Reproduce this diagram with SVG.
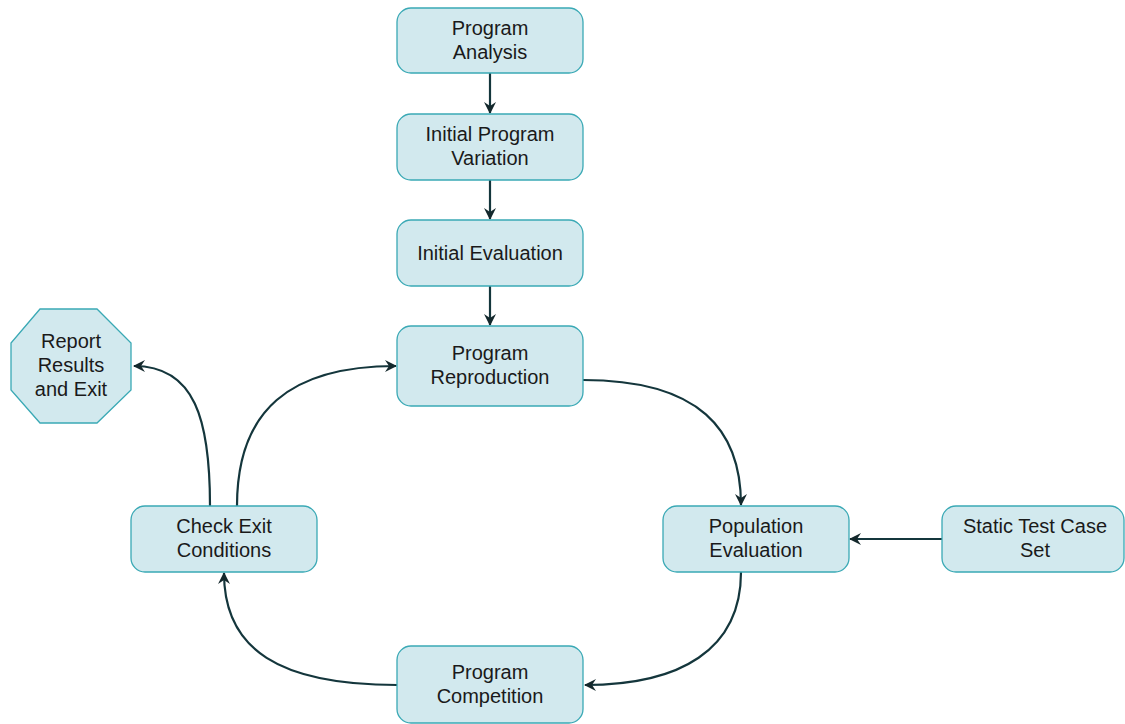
<svg xmlns="http://www.w3.org/2000/svg" width="1125" height="724" viewBox="0 0 1125 724">
<defs>
<marker id="arr" viewBox="0 0 12 12" refX="11" refY="6" markerWidth="12" markerHeight="12" markerUnits="userSpaceOnUse" orient="auto">
<path d="M0,0 L12,6 L0,12 L4,6 z" fill="#14282c"/>
</marker>
<style>
.n{fill:#d2e9ee;stroke:#3aa9b5;stroke-width:1.3}
.t{font-family:"Liberation Sans",Arial,sans-serif;font-size:20px;fill:#1a1a1a;text-anchor:middle}
.c{fill:none;stroke:#14363c;stroke-width:2.2;marker-end:url(#arr)}
</style>
</defs>
<rect width="1125" height="724" fill="#ffffff"/>
<g id="connectors">
<path class="c" d="M490,73 L490,113"/>
<path class="c" d="M490,180 L490,219"/>
<path class="c" d="M490,286 L490,325"/>
<path class="c" d="M583,380 C700,380 741,430 741,505"/>
<path class="c" d="M741,572 C741,650 680,685 585,685"/>
<path class="c" d="M397,685 C280,685 224,650 224,573"/>
<path class="c" d="M210,506 C210,420 195,366 134,366"/>
<path class="c" d="M237,506 C237,410 290,366 396,366"/>
<path class="c" d="M942,539 L850,539"/>
</g>
<g id="program-analysis">
<rect class="n" x="397" y="8" width="186" height="65" rx="14"/>
<text class="t" x="490" y="35">Program</text>
<text class="t" x="490" y="59">Analysis</text>
</g>
<g id="initial-program-variation">
<rect class="n" x="397" y="114" width="186" height="66" rx="14"/>
<text class="t" x="490" y="141">Initial Program</text>
<text class="t" x="490" y="165">Variation</text>
</g>
<g id="initial-evaluation">
<rect class="n" x="397" y="220" width="186" height="66" rx="14"/>
<text class="t" x="490" y="260">Initial Evaluation</text>
</g>
<g id="program-reproduction">
<rect class="n" x="397" y="326" width="186" height="80" rx="14"/>
<text class="t" x="490" y="360">Program</text>
<text class="t" x="490" y="384">Reproduction</text>
</g>
<g id="population-evaluation">
<rect class="n" x="663" y="506" width="186" height="66" rx="14"/>
<text class="t" x="756" y="533">Population</text>
<text class="t" x="756" y="557">Evaluation</text>
</g>
<g id="static-test-case-set">
<rect class="n" x="942" y="506" width="182" height="66" rx="14"/>
<text class="t" x="1035" y="533">Static Test Case</text>
<text class="t" x="1035" y="557">Set</text>
</g>
<g id="check-exit-conditions">
<rect class="n" x="131" y="506" width="186" height="66" rx="14"/>
<text class="t" x="224" y="533">Check Exit</text>
<text class="t" x="224" y="557">Conditions</text>
</g>
<g id="program-competition">
<rect class="n" x="397" y="646" width="186" height="77" rx="14"/>
<text class="t" x="490" y="679">Program</text>
<text class="t" x="490" y="703">Competition</text>
</g>
<g id="report-results">
<polygon class="n" points="40,309 97,309 131,343 131,390 97,423 40,423 11,390 11,343"/>
<text class="t" x="71" y="348">Report</text>
<text class="t" x="71" y="372">Results</text>
<text class="t" x="71" y="396">and Exit</text>
</g>
</svg>
